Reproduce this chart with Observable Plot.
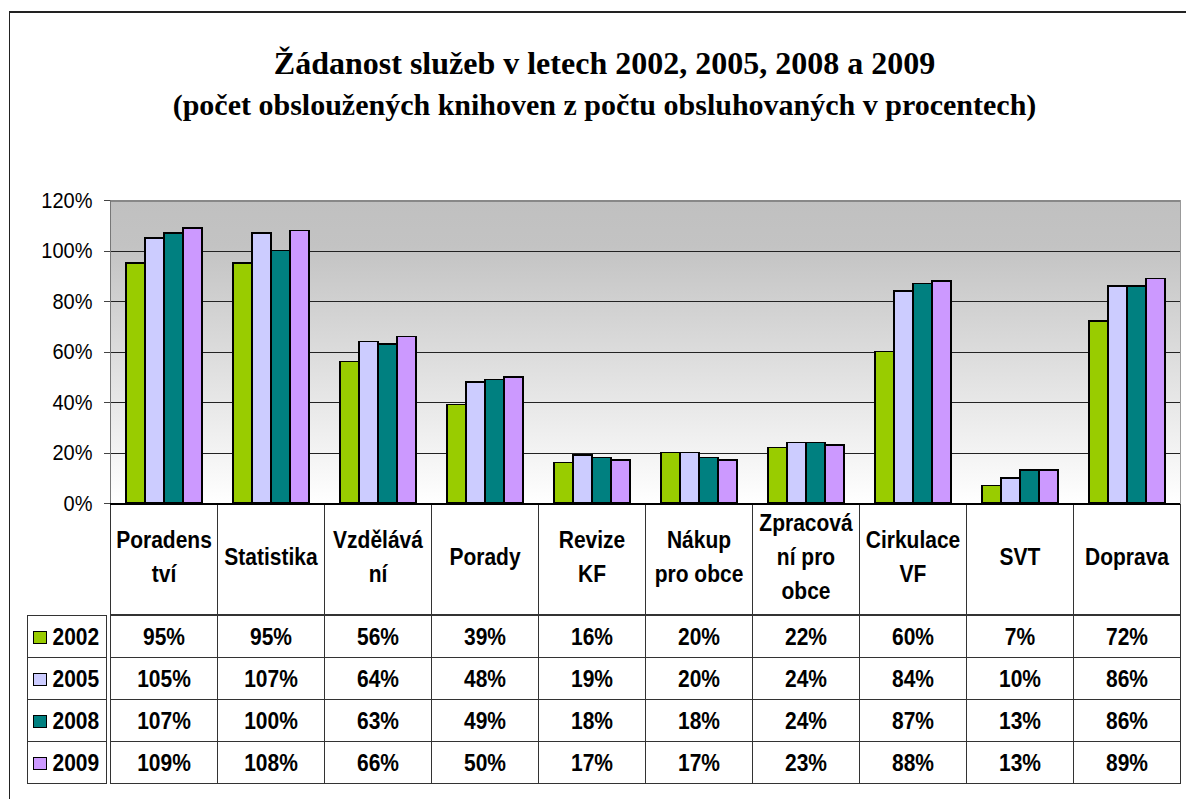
<!DOCTYPE html>
<html><head><meta charset="utf-8">
<script src="https://cdn.jsdelivr.net/npm/d3@7"></script>
<script src="https://cdn.jsdelivr.net/npm/@observablehq/plot@0.6"></script>
<style>
html,body{margin:0;padding:0;background:#fff;}
body{width:1186px;height:799px;position:relative;overflow:hidden;font-family:"Liberation Sans",Arial,sans-serif;}
#outer{position:absolute;left:9px;top:11px;width:1200px;height:800px;border-top:2px solid #222;border-left:1px solid #222;}
#title{position:absolute;left:9px;width:1191px;top:41px;text-align:center;font-family:"Liberation Serif","Times New Roman",serif;font-weight:bold;color:#000;}
#t1{font-size:32px;line-height:44px;height:44px;}
#t2{font-size:30px;line-height:40px;height:40px;}
.abs{position:absolute;}
.crisp line,.crisp rect,.crisp path{shape-rendering:crispEdges;}
</style></head><body>
<div id="outer"></div>
<div id="title"><div id="t1">Žádanost služeb v letech 2002, 2005, 2008 a 2009</div><div id="t2">(počet obsloužených knihoven z počtu obsluhovaných v procentech)</div></div>
<div id="hdr" class="abs crisp" style="left:0;top:503px"></div>
<div id="tbl" class="abs crisp" style="left:0;top:614px"></div>
<div id="key" class="abs crisp" style="left:27px;top:614px"></div>
<div id="chart" class="abs crisp" style="left:0;top:180px"></div>
<script>
// ---- data ----
const categories = ["Poradenství","Statistika","Vzdělávání","Porady","Revize KF","Nákup pro obce","Zpracování pro obce","Cirkulace VF","SVT","Doprava"];
const headerLabels = ["Poradens\ntví","Statistika","Vzdělává\nní","Porady","Revize\nKF","Nákup\npro obce","Zpracová\nní pro\nobce","Cirkulace\nVF","SVT","Doprava"];
const years = ["2002","2005","2008","2009"];
const v2002 = [0.95,0.95,0.56,0.39,0.16,0.20,0.22,0.60,0.07,0.72];
const v2005 = [1.05,1.07,0.64,0.48,0.19,0.20,0.24,0.84,0.10,0.86];
const v2008 = [1.07,1.00,0.63,0.49,0.18,0.18,0.24,0.87,0.13,0.86];
const v2009 = [1.09,1.08,0.66,0.50,0.17,0.17,0.23,0.88,0.13,0.89];
const yTicks = [0,0.2,0.4,0.6,0.8,1.0,1.2];
const colors = ["#99cc00","#ccccff","#008080","#cc99ff"];

const series = [v2002, v2005, v2008, v2009];
const data = categories.flatMap((c, i) => years.map((y, j) => ({cat: c, year: y, value: series[j][i]})));
const pct = d3.format(".0%");
const font = "Liberation Sans, Arial, sans-serif";

// stretch glyphs vertically a little, like the reference rendering
function stretch(svg, k) {
  d3.select(svg).selectAll("text").each(function() {
    const t = this.getAttribute("transform");
    if (t) this.setAttribute("transform", t + ` scale(1,${k})`);
  });
}

// ---- chart ----
const chart = Plot.plot({
  width: 1186, height: 325,
  marginLeft: 106, marginRight: 2, marginTop: 20, marginBottom: 2,
  style: {background: "transparent", overflow: "visible", fontFamily: font},
  fx: {domain: categories, padding: 0, axis: null},
  x: {domain: years, type: "band", paddingInner: 0, paddingOuter: 0.7, axis: null},
  y: {domain: [0, 1.2], axis: null, label: null},
  color: {domain: years, range: colors},
  marks: [
    Plot.frame({fill: "url(#bgGrad)", stroke: "none"}),
    Plot.ruleY([0.2, 0.4, 0.6, 0.8, 1.0], {stroke: "#222", strokeWidth: 1}),
    Plot.ruleY([1.2], {stroke: "#888", strokeWidth: 2}),
    Plot.frame({anchor: "left", facetAnchor: "left", stroke: "#777", strokeWidth: 1.5}),
    Plot.frame({anchor: "right", facetAnchor: "right", stroke: "#999", strokeWidth: 1.5}),
    Plot.barY(data, {fx: "cat", x: "year", y: "value", fill: "year", stroke: "#000", strokeWidth: 1.5}),
    Plot.ruleY([0], {stroke: "#000", strokeWidth: 2}),
    Plot.axisY(yTicks, {tickFormat: pct, tickSize: 6, tickPadding: 12, fontSize: 20, stroke: "#444", fill: "#000", label: null})
  ]
});
const defs = d3.select(chart).insert("defs", ":first-child");
const grad = defs.append("linearGradient").attr("id", "bgGrad").attr("x1", 0).attr("y1", 0).attr("x2", 0).attr("y2", 1);
grad.append("stop").attr("offset", "0%").attr("stop-color", "#c0c0c0");
grad.append("stop").attr("offset", "15%").attr("stop-color", "#c3c3c3");
grad.append("stop").attr("offset", "100%").attr("stop-color", "#ffffff");
stretch(chart, 1.1);
document.getElementById("chart").appendChild(chart);

// ---- table header (category names) ----
const hdr = Plot.plot({
  width: 1186, height: 112,
  marginLeft: 106, marginRight: 2, marginTop: 0, marginBottom: 1,
  style: {background: "transparent", overflow: "visible", fontFamily: font},
  x: {domain: categories, type: "band", padding: 0, axis: null},
  marks: [
    Plot.cell(categories, {x: d => d, stroke: "#333", fill: "none"}),
    Plot.text(categories, {x: d => d, text: (d, i) => headerLabels[i], fontSize: 21, fontWeight: "bold", lineHeight: 1.45, dy: -5, fill: "#000"})
  ]
});
stretch(hdr, 1.12);
document.getElementById("hdr").appendChild(hdr);

// ---- table values ----
const tbl = Plot.plot({
  width: 1186, height: 171,
  marginLeft: 106, marginRight: 2, marginTop: 0, marginBottom: 1,
  style: {background: "transparent", overflow: "visible", fontFamily: font},
  x: {domain: categories, type: "band", padding: 0, axis: null},
  y: {domain: years, type: "band", padding: 0, axis: null},
  marks: [
    Plot.cell(data, {x: "cat", y: "year", stroke: "#333", fill: "none"}),
    Plot.text(data, {x: "cat", y: "year", text: d => pct(d.value), fontSize: 21, fontWeight: "bold", dy: 1, fill: "#000"})
  ]
});
stretch(tbl, 1.15);
document.getElementById("tbl").appendChild(tbl);

// ---- legend keys column ----
const key = Plot.plot({
  width: 80, height: 171,
  marginLeft: 0, marginRight: 1, marginTop: 0, marginBottom: 1,
  style: {background: "transparent", overflow: "visible", fontFamily: font},
  y: {domain: years, type: "band", padding: 0, axis: null},
  color: {domain: years, range: colors},
  marks: [
    Plot.cell(years, {y: d => d, stroke: "#333", fill: "none"}),
    Plot.dot(years, {y: d => d, frameAnchor: "left", dx: 12.5, dy: 1, symbol: "square", r: 6.8, fill: d => d, stroke: "#000", strokeWidth: 1}),
    Plot.text(years, {y: d => d, frameAnchor: "left", dx: 25, dy: 1, textAnchor: "start", fontSize: 21, fontWeight: "bold", fill: "#000"})
  ]
});
stretch(key, 1.15);
document.getElementById("key").appendChild(key);
</script>
</body></html>
